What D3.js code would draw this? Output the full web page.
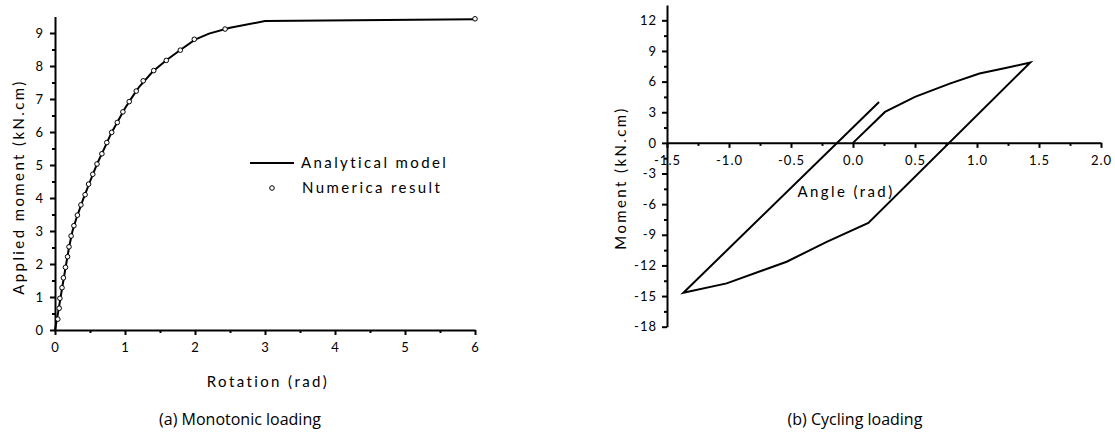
<!DOCTYPE html>
<meta charset="utf-8">
<script src="https://d3js.org/d3.v7.min.js"></script>
<style>
  body { margin: 0; background: #fff; }
  svg text { font-family: Lato, "Open Sans", sans-serif; fill: #000; }
  .axis path, .axis line { stroke: #000; stroke-width: 2; }
  .axis text { font-size: 13px; letter-spacing: 1px; }
  .minor line { stroke: #000; stroke-width: 2; }
  .minor path { display: none; }
  .lbl { font-size: 15px; letter-spacing: 2.4px; }
  .cap { font-size: 16px; font-family: "Open Sans", sans-serif; }
</style>
<div id="vis"></div>
<script>
// (a) monotonic loading - numerical points
var numRotation = [0.04, 0.06, 0.07, 0.10, 0.12, 0.15, 0.18, 0.20, 0.23, 0.27, 0.32, 0.37, 0.43, 0.48, 0.54, 0.60, 0.67, 0.74, 0.81, 0.89, 0.97, 1.06, 1.16, 1.26, 1.41, 1.59, 1.79, 1.99, 2.43, 6.0]
var numMoment = [0.33, 0.66, 0.96, 1.28, 1.58, 1.90, 2.22, 2.52, 2.85, 3.16, 3.48, 3.79, 4.10, 4.42, 4.72, 5.03, 5.34, 5.68, 5.99, 6.29, 6.61, 6.92, 7.24, 7.55, 7.86, 8.17, 8.48, 8.81, 9.12, 9.43]

// (a) analytical model
var anaRotation = [0, 0.05, 0.1, 0.15, 0.2, 0.25, 0.3, 0.4, 0.5, 0.6, 0.7, 0.8, 0.9, 1.0, 1.1, 1.2, 1.4, 1.6, 1.8, 2.0, 2.2, 2.5, 3.0, 6.0]
var anaMoment = [0, 0.6, 1.25, 1.88, 2.5, 3.0, 3.35, 3.95, 4.5, 5.03, 5.48, 5.95, 6.33, 6.72, 7.05, 7.36, 7.84, 8.19, 8.5, 8.8, 8.98, 9.16, 9.36, 9.42]

// (b) cycling loading path
var cycAngle = [0, 0.258, 0.5, 0.78, 1.02, 1.24, 1.43, 0.124, -0.212, -0.535, -1.019, -1.368, 0.21]
var cycMoment = [0, 3.03, 4.5, 5.8, 6.79, 7.35, 7.87, -7.83, -9.69, -11.64, -13.76, -14.68, 4.01]

var rotTicks = [0, 1, 2, 3, 4, 5, 6]
var appTicks = [0, 1, 2, 3, 4, 5, 6, 7, 8, 9]
var angTicks = [-1.5, -1.0, -0.5, 0.0, 0.5, 1.0, 1.5, 2.0]
var momTicks = [-18, -15, -12, -9, -6, -3, 0, 3, 6, 9, 12]

// plain hyphen for negatives, like the original
function hyph(f) { return function (d) { return f(d).replace("\u2212", "-") } }

var svg = d3.select("#vis").append("svg")
  .attr("width", 1115).attr("height", 434)

// ---------- (a) ----------
var xa = d3.scaleLinear().domain([0, 6]).range([55, 475])
var ya = d3.scaleLinear().domain([0, 9.5]).range([330, 16.5])

svg.append("g").attr("class", "minor")
  .attr("transform", "translate(0,330)")
  .call(d3.axisBottom(xa).tickValues(d3.range(0.5, 6, 1)).tickSize(3).tickFormat(""))
svg.append("g").attr("class", "minor")
  .attr("transform", "translate(55,0)")
  .call(d3.axisLeft(ya).tickValues(d3.range(0.5, 9.5, 1)).tickSize(3).tickFormat(""))

svg.append("g").attr("class", "axis")
  .attr("transform", "translate(0,330)")
  .call(d3.axisBottom(xa).tickValues(rotTicks).tickSize(5).tickSizeOuter(0).tickPadding(8).tickFormat(d3.format("d")))
svg.append("g").attr("class", "axis")
  .attr("transform", "translate(55,0)")
  .call(d3.axisLeft(ya).tickValues(appTicks).tickSize(5).tickSizeOuter(0).tickPadding(6).tickFormat(d3.format("d")))

var anaData = anaRotation.map(function (d, i) { return [d, anaMoment[i]] })
svg.append("path").datum(anaData)
  .attr("fill", "none").attr("stroke", "#000").attr("stroke-width", 2)
  .attr("d", d3.line().x(function (d) { return xa(d[0]) }).y(function (d) { return ya(d[1]) }))

svg.append("g").selectAll("circle")
  .data(numRotation.map(function (d, i) { return [d, numMoment[i]] }))
  .enter().append("circle")
  .attr("cx", function (d) { return xa(d[0]) })
  .attr("cy", function (d) { return ya(d[1]) })
  .attr("r", 2.3)
  .attr("fill", "#fff").attr("stroke", "#000").attr("stroke-width", 1)

// legend
svg.append("line").attr("x1", 250).attr("x2", 294).attr("y1", 163).attr("y2", 163)
  .attr("stroke", "#000").attr("stroke-width", 2)
svg.append("text").attr("class", "lbl").attr("x", 301).attr("y", 168).text("Analytical model")
svg.append("circle").attr("cx", 272).attr("cy", 188).attr("r", 2.3)
  .attr("fill", "#fff").attr("stroke", "#000")
svg.append("text").attr("class", "lbl").attr("x", 302).attr("y", 193).text("Numerica result")

svg.append("text").attr("class", "lbl")
  .attr("transform", "translate(24,187) rotate(-90)")
  .attr("text-anchor", "middle").text("Applied moment (kN.cm)")
svg.append("text").attr("class", "lbl")
  .attr("x", 268).attr("y", 387).attr("text-anchor", "middle").text("Rotation (rad)")
svg.append("text").attr("class", "cap")
  .attr("x", 240).attr("y", 425).attr("text-anchor", "middle").text("(a) Monotonic loading")

// ---------- (b) ----------
var xb = d3.scaleLinear().domain([-1.5, 2]).range([667, 1101])
var yb = d3.scaleLinear().domain([-18, 13.5]).range([326.7, 5])

svg.append("g").attr("class", "minor")
  .attr("transform", "translate(0," + yb(0) + ")")
  .call(d3.axisBottom(xb).tickValues(d3.range(-1.25, 2, 0.5)).tickSize(3).tickFormat(""))
svg.append("g").attr("class", "minor")
  .attr("transform", "translate(667,0)")
  .call(d3.axisLeft(yb).tickValues(d3.range(-16.5, 13.5, 3)).tickSize(3).tickFormat(""))

svg.append("g").attr("class", "axis")
  .attr("transform", "translate(0," + yb(0) + ")")
  .call(d3.axisBottom(xb).tickValues(angTicks).tickSize(5).tickSizeOuter(0).tickPadding(8).tickFormat(hyph(d3.format(".1f"))))
svg.append("g").attr("class", "axis")
  .attr("transform", "translate(667,0)")
  .call(d3.axisLeft(yb).tickValues(momTicks).tickSize(5).tickSizeOuter(0).tickPadding(5).tickFormat(hyph(d3.format("d"))))

svg.append("path").datum(cycAngle.map(function (d, i) { return [d, cycMoment[i]] }))
  .attr("fill", "none").attr("stroke", "#000").attr("stroke-width", 2)
  .attr("stroke-linejoin", "miter")
  .attr("d", d3.line().x(function (d) { return xb(d[0]) }).y(function (d) { return yb(d[1]) }))

svg.append("text").attr("class", "lbl")
  .attr("transform", "translate(626,178) rotate(-90)")
  .attr("text-anchor", "middle").text("Moment (kN.cm)")
svg.append("text").attr("class", "lbl")
  .attr("x", 846).attr("y", 197).attr("text-anchor", "middle").text("Angle (rad)")
svg.append("text").attr("class", "cap")
  .attr("x", 855).attr("y", 425).attr("text-anchor", "middle").text("(b) Cycling loading")
</script>
